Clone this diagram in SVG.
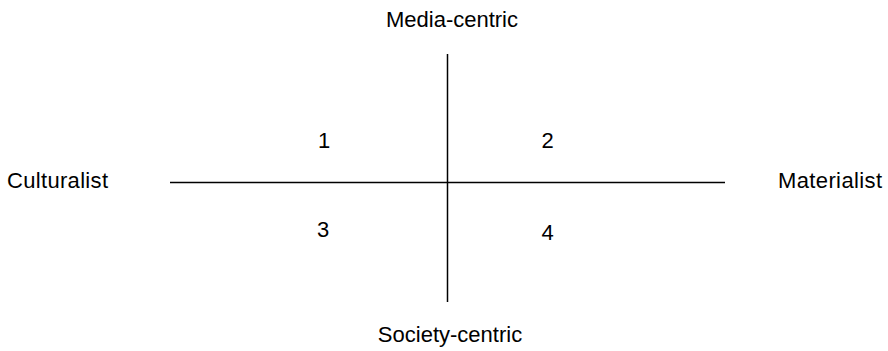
<svg xmlns="http://www.w3.org/2000/svg" width="888" height="351" viewBox="0 0 888 351">
<style>
text{font-family:"Liberation Sans",Arial,sans-serif;font-size:22px;fill:#000}
.axis{stroke:#000;stroke-width:1.5;fill:none}
</style>
<rect width="888" height="351" fill="#fff"/>
<g id="connectors">
<line class="axis" x1="170" y1="182.5" x2="725" y2="182.5"/>
<line class="axis" x1="447.5" y1="54" x2="447.5" y2="302"/>
</g>
<g id="media-centric"><text x="452" y="27" text-anchor="middle">Media-centric</text></g>
<g id="society-centric"><text x="450" y="342" text-anchor="middle">Society-centric</text></g>
<g id="culturalist"><text x="7" y="188" textLength="101">Culturalist</text></g>
<g id="materialist"><text x="778" y="188" textLength="104">Materialist</text></g>
<g id="q1"><text x="324" y="148" text-anchor="middle">1</text></g>
<g id="q2"><text x="547.5" y="148" text-anchor="middle">2</text></g>
<g id="q3"><text x="323" y="237" text-anchor="middle">3</text></g>
<g id="q4"><text x="547.5" y="240" text-anchor="middle">4</text></g>
</svg>
